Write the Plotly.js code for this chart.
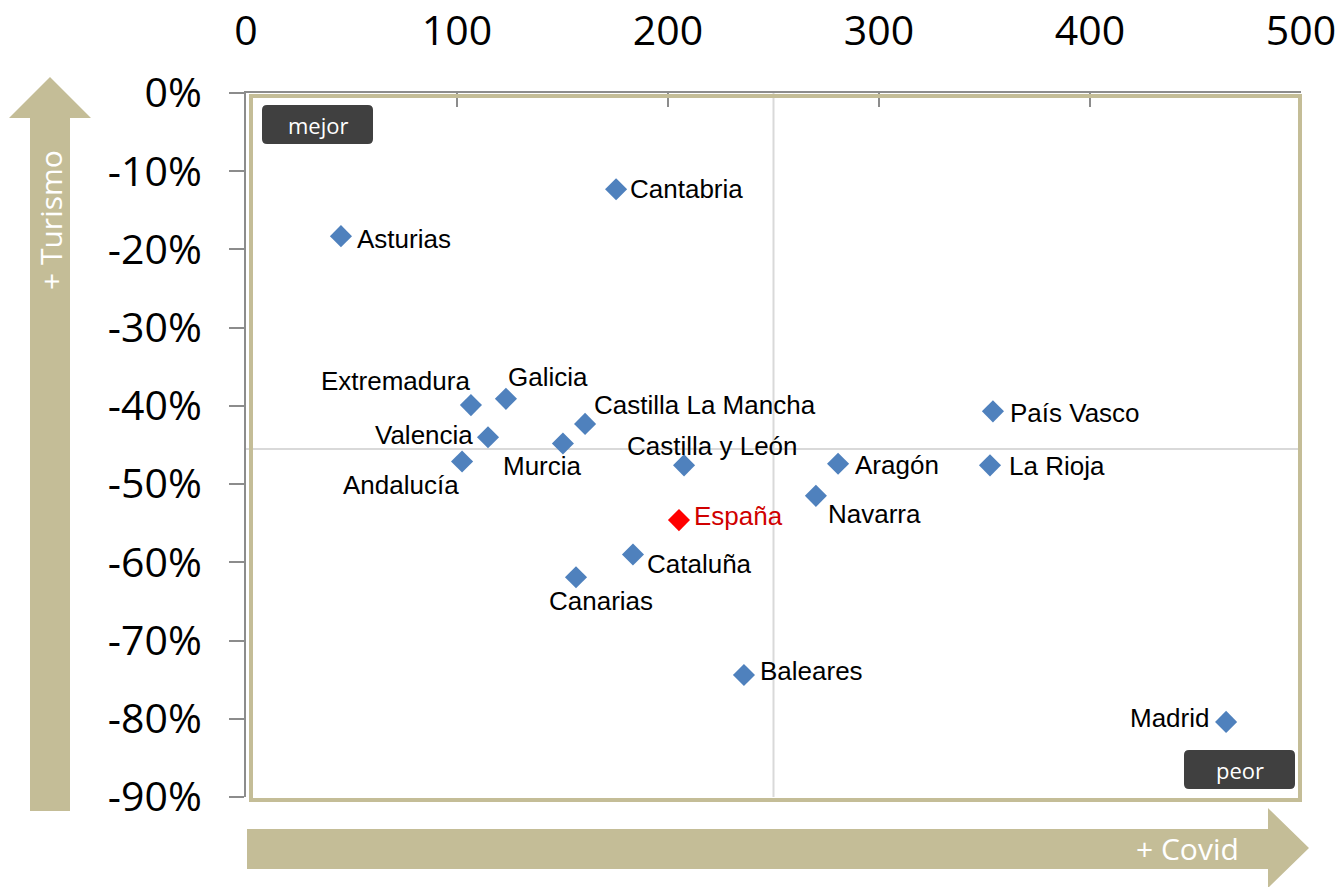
<!DOCTYPE html>
<html>
<head>
<meta charset="utf-8">
<script src="https://cdn.plot.ly/plotly-3.0.1.min.js"></script>
<style>html,body{margin:0;padding:0;background:#fff;}#chart{width:1341px;height:887px;}</style>
</head>
<body>
<div id="chart"></div>
<script>
// Data
const regions = ["Cantabria","Asturias","Extremadura","Galicia","Castilla La Mancha","Valencia","Murcia","Andalucía","Castilla y León","Aragón","País Vasco","La Rioja","Navarra","Cataluña","Canarias","Baleares","Madrid"];
const covid   = [175.4, 45.0, 106.6, 123.2, 160.7, 114.7, 150.2, 102.4, 207.6, 280.6, 354.0, 352.6, 270.1, 183.4, 156.4, 236.0, 464.5];
const turismo = [-0.123,-0.183,-0.399,-0.391,-0.423,-0.440,-0.448,-0.471,-0.476,-0.474,-0.407,-0.476,-0.515,-0.590,-0.619,-0.744,-0.804];
const spainName = ["España"];
const spainCovid = [205.2];
const spainTurismo = [-0.546];
const xTicks = [0,100,200,300,400,500];
const yTicks = [0,-0.1,-0.2,-0.3,-0.4,-0.5,-0.6,-0.7,-0.8,-0.9];
const refX = 250;      // vertical reference line
const refY = -0.455;   // horizontal reference line

// label placement (style): [xanchor, xshift, yshift]
const labelStyle = {
  "Cantabria":["left",12,0],"Asturias":["left",14,-3],"Extremadura":["right",1,24],
  "Galicia":["left",0,22],"Castilla La Mancha":["left",7,19],"Valencia":["right",-13,2],
  "Murcia":["center",-20,-23],"Andalucía":["right",-1,-24],"Castilla y León":["center",28,19],
  "Aragón":["left",15,-1],"País Vasco":["left",15,-2],"La Rioja":["left",17,-1],
  "Navarra":["left",10,-18],"Cataluña":["left",12,-9],"Canarias":["center",25,-24],
  "Baleares":["left",14,4],"Madrid":["right",-15,4],"España":["left",13,4]
};

// pixel -> paper helpers (plot area 246..1301 x, 93..797 y)
const L=246,R=1301,T=93,B=797;
const px=x=>(x-L)/(R-L);
const py=y=>(B-y)/(B-T);
function poly(pts){return 'M'+pts.map(p=>px(p[0]).toFixed(5)+','+py(p[1]).toFixed(5)).join(' L')+' Z';}
function rrect(x0,y0,x1,y1,r){
  const P=(x,y)=>px(x).toFixed(5)+','+py(y).toFixed(5);
  return 'M'+P(x0+r,y0)+' L'+P(x1-r,y0)+' Q'+P(x1,y0)+' '+P(x1,y0+r)+' L'+P(x1,y1-r)+' Q'+P(x1,y1)+' '+P(x1-r,y1)+
    ' L'+P(x0+r,y1)+' Q'+P(x0,y1)+' '+P(x0,y1-r)+' L'+P(x0,y0+r)+' Q'+P(x0,y0)+' '+P(x0+r,y0)+' Z';
}
const tan='#c4bd97';
const labelFont='Liberation Sans, Arial, sans-serif';

const traces = [
  {x:covid,y:turismo,mode:'markers',type:'scatter',
   marker:{symbol:'diamond',size:17,color:'#4f81bd'},cliponaxis:false,hoverinfo:'skip'},
  {x:spainCovid,y:spainTurismo,mode:'markers',type:'scatter',
   marker:{symbol:'diamond',size:17,color:'#ff0000'},cliponaxis:false,hoverinfo:'skip'}
];

const shapes = [
  {type:'line',xref:'x',yref:'paper',x0:refX,x1:refX,y0:0,y1:1,line:{color:'#d9d9d9',width:2},layer:'below'},
  {type:'line',xref:'paper',yref:'y',x0:0,x1:1,y0:refY,y1:refY,line:{color:'#d9d9d9',width:2},layer:'below'},
  {type:'rect',xref:'paper',yref:'paper',x0:px(251),x1:px(1300),y0:py(800),y1:py(96),line:{color:tan,width:4},layer:'above'},
  {type:'path',xref:'paper',yref:'paper',path:poly([[30,811],[70,811],[70,118],[91,118],[50,77],[9,118],[30,118]]),fillcolor:tan,line:{width:0}},
  {type:'path',xref:'paper',yref:'paper',path:poly([[247,829],[1268,829],[1268,808],[1309,848],[1268,888],[1268,869],[247,869]]),fillcolor:tan,line:{width:0}},
  {type:'path',xref:'paper',yref:'paper',path:rrect(262,105,373,144,5),fillcolor:'#404040',line:{width:0},layer:'above'},
  {type:'path',xref:'paper',yref:'paper',path:rrect(1184,750,1295,789,5),fillcolor:'#404040',line:{width:0},layer:'above'}
];

const annFont={family:'Open Sans, sans-serif',color:'#fff'};
const annotations = [
  {xref:'paper',yref:'paper',x:px(50),y:py(220),text:'+ Turismo',textangle:-90,showarrow:false,font:Object.assign({size:30},annFont),xanchor:'center',yanchor:'middle'},
  {xref:'paper',yref:'paper',x:px(1187),y:py(848),text:'+ Covid',showarrow:false,font:Object.assign({size:30},annFont),xanchor:'center',yanchor:'middle'},
  {xref:'paper',yref:'paper',x:px(318),y:py(125),text:'mejor',showarrow:false,font:Object.assign({size:22},annFont),xanchor:'center',yanchor:'middle'},
  {xref:'paper',yref:'paper',x:px(1240),y:py(770),text:'peor',showarrow:false,font:Object.assign({size:22},annFont),xanchor:'center',yanchor:'middle'}
];
regions.forEach((r,i)=>{
  const s=labelStyle[r];
  annotations.push({x:covid[i],y:turismo[i],xref:'x',yref:'y',text:r,showarrow:false,
    xanchor:s[0],yanchor:'middle',xshift:s[1],yshift:s[2],
    font:{family:labelFont,size:26,color:'#000'}});
});
spainName.forEach((r,i)=>{
  const s=labelStyle[r];
  annotations.push({x:spainCovid[i],y:spainTurismo[i],xref:'x',yref:'y',text:r,showarrow:false,
    xanchor:s[0],yanchor:'middle',xshift:s[1],yshift:s[2],
    font:{family:labelFont,size:26,color:'#d00000'}});
});

const layout = {
  width:1341,height:887,
  margin:{l:L,r:1341-R,t:T,b:887-B,pad:0},
  paper_bgcolor:'#fff',plot_bgcolor:'#fff',
  showlegend:false,
  xaxis:{side:'top',range:[0,500],tickvals:xTicks,ticktext:xTicks.map(String),
    ticks:'inside',ticklen:14,tickwidth:2,tickcolor:'#8c8c8c',
    showline:true,linecolor:'#8c8c8c',linewidth:2,showgrid:false,zeroline:false,
    tickfont:{family:'Open Sans, sans-serif',size:41,color:'#000'},ticklabelstandoff:30,fixedrange:true},
  yaxis:{range:[-0.9,0],tickvals:yTicks,ticktext:yTicks.map(v=>Math.round(v*100)+'%'),
    ticks:'outside',ticklen:15,tickwidth:2,tickcolor:'#8c8c8c',
    showline:true,linecolor:'#8c8c8c',linewidth:2,showgrid:false,zeroline:false,
    tickfont:{family:'Open Sans, sans-serif',size:41,color:'#000'},ticklabelstandoff:19,fixedrange:true},
  shapes:shapes,annotations:annotations
};

Plotly.newPlot('chart',traces,layout,{displayModeBar:false,staticPlot:true});
</script>
</body>
</html>
